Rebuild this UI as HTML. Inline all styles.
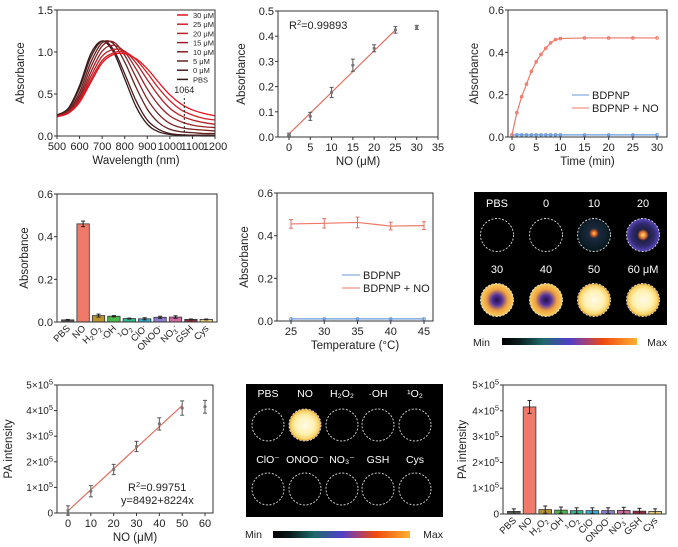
<!DOCTYPE html>
<html><head><meta charset="utf-8"><style>
body{margin:0;background:#fff}
svg{display:block;font-family:"Liberation Sans",sans-serif}
</style></head><body>
<svg id="fig" width="678" height="547" viewBox="0 0 678 547" xmlns="http://www.w3.org/2000/svg">
<defs>
<linearGradient id="cbar" x1="0" x2="1" y1="0" y2="0">
<stop offset="0" stop-color="#000"/><stop offset="0.12" stop-color="#0a1a1a"/><stop offset="0.3" stop-color="#1f6a6a"/><stop offset="0.5" stop-color="#5040c8"/><stop offset="0.62" stop-color="#a0407a"/><stop offset="0.75" stop-color="#f04a10"/><stop offset="1" stop-color="#ffb030"/>
</linearGradient>
<radialGradient id="hot"><stop offset="0" stop-color="#fffbe8"/><stop offset="0.6" stop-color="#fff0b0"/><stop offset="0.9" stop-color="#f8d060"/><stop offset="1" stop-color="#d08020"/></radialGradient>
<radialGradient id="mid"><stop offset="0" stop-color="#ffe070"/><stop offset="0.2" stop-color="#e07030"/><stop offset="0.35" stop-color="#202040"/><stop offset="0.7" stop-color="#302a70"/><stop offset="1" stop-color="#5a48c0"/></radialGradient>
<radialGradient id="low" cx="0.5" cy="0.45"><stop offset="0" stop-color="#ffd060"/><stop offset="0.14" stop-color="#e06020"/><stop offset="0.3" stop-color="#1a2a40"/><stop offset="1" stop-color="#0a1a20"/></radialGradient>
<radialGradient id="ring"><stop offset="0" stop-color="#201040"/><stop offset="0.3" stop-color="#5030a0"/><stop offset="0.65" stop-color="#f0a040"/><stop offset="1" stop-color="#f8d060"/></radialGradient>
</defs>
</svg>
<script>
const svg=document.getElementById('fig');
const NS='http://www.w3.org/2000/svg';
function mk(tag,at,name,parent){const el=document.createElementNS(NS,tag);for(const k in at)el.setAttribute(k,at[k]);


(parent||svg).appendChild(el);return el;}
function txt(x,y,s,name,o){o=o||{};const t=mk('text',Object.assign({x:x,y:y,'font-size':o.fs||10.5,fill:o.fill||'#222','text-anchor':o.anchor||'middle'},o.extra||{}),name);t.textContent=s;return t;}
function sci(x,y,m,name){const t=mk('text',{x:x,y:y,'font-size':10,fill:'#222','text-anchor':'end'},name);
if(m===0){t.textContent='0';return;}
t.appendChild(document.createTextNode(m+'×10'));const sp=document.createElementNS(NS,'tspan');sp.setAttribute('dy','-4');sp.setAttribute('font-size','7.5');sp.textContent='5';t.appendChild(sp);}
function scale(d0,d1,r0,r1){return v=>r0+(v-d0)/(d1-d0)*(r1-r0);}
function frame(b,name){mk('rect',{x:b.x0,y:b.y0,width:b.x1-b.x0,height:b.y1-b.y0,fill:'none',stroke:'#333','stroke-width':1},name);}
function yAxis(b,ys,ticks,labels,title,name,isSci){ticks.forEach((v,i)=>{const y=ys(v);
mk('line',{x1:b.x0-3,x2:b.x0,y1:y,y2:y,stroke:'#333'},name+'-tick');
if(isSci)sci(b.x0-4,y+3.5,labels[i],name+'-label');else txt(b.x0-4,y+4,labels[i],name+'-label',{anchor:'end',fs:11});});
const cx=b.tx||b.x0-33,cy=(b.y0+b.y1)/2;txt(cx,cy,title,name+'-title',{fs:11.5,extra:{transform:`rotate(-90 ${cx} ${cy})`}});}
function xAxis(b,xs,ticks,labels,title,name){ticks.forEach((v,i)=>{const x=xs(v);
mk('line',{x1:x,x2:x,y1:b.y1,y2:b.y1+3,stroke:'#333'},name+'-tick');
txt(x,b.y1+14,labels[i],name+'-label',{fs:11});});
if(title)txt((b.x0+b.x1)/2,b.y1+28,title,name+'-title',{fs:11.5});}
function errbar(x,y1,y2,name,c){mk('line',{x1:x,x2:x,y1:y1,y2:y2,stroke:c||'#555'},name);
mk('line',{x1:x-2,x2:x+2,y1:y1,y2:y1,stroke:c||'#555'},name+'-cap');mk('line',{x1:x-2,x2:x+2,y1:y2,y2:y2,stroke:c||'#555'},name+'-cap');}
function smooth(pts){let d='M'+pts[0][0]+','+pts[0][1];for(let i=0;i<pts.length-1;i++){const p0=pts[i-1]||pts[i],p1=pts[i],p2=pts[i+1],p3=pts[i+2]||p2;
d+=` C${p1[0]+(p2[0]-p0[0])/6},${p1[1]+(p2[1]-p0[1])/6} ${p2[0]-(p3[0]-p1[0])/6},${p2[1]-(p3[1]-p1[1])/6} ${p2[0]},${p2[1]}`;}return d;}

// ===== Panel 1: spectra =====
const specWl=[500,550,600,650,700,750,800,850,900,950,1000,1050,1100,1150,1200];
const specPBS=[0.25,0.33,0.60,0.98,1.13,1.00,0.68,0.35,0.14,0.05,0.02,0.01,0.005,0,0];
const spec0=[0.25,0.32,0.57,0.94,1.13,1.03,0.74,0.42,0.19,0.08,0.03,0.015,0.01,0.01,0.01];
const spec5=[0.24,0.30,0.52,0.88,1.11,1.10,0.88,0.58,0.32,0.16,0.08,0.05,0.04,0.03,0.03];
const spec10=[0.24,0.29,0.48,0.82,1.07,1.12,0.96,0.70,0.44,0.26,0.15,0.10,0.08,0.07,0.06];
const spec15=[0.24,0.28,0.45,0.76,1.01,1.08,1.00,0.80,0.56,0.37,0.24,0.17,0.13,0.11,0.10];
const spec20=[0.23,0.28,0.43,0.71,0.95,1.03,1.01,0.87,0.67,0.48,0.33,0.24,0.19,0.16,0.14];
const spec25=[0.23,0.28,0.41,0.67,0.90,0.99,1.00,0.91,0.75,0.57,0.42,0.31,0.25,0.21,0.19];
const spec30=[0.23,0.27,0.40,0.64,0.87,0.97,0.98,0.92,0.80,0.64,0.49,0.38,0.31,0.27,0.24];
const specNames=['30 μM','25 μM','20 μM','15 μM','10 μM','5 μM','0 μM','PBS'];
(function(){const b={x0:57,x1:215,y0:10,y1:136,tx:24};const xs=scale(500,1200,57,215),ys=scale(0,1.5,136,10);
const series=[spec30,spec25,spec20,spec15,spec10,spec5,spec0,specPBS];
const cols=['#e8141e','#cf1f25','#b52228','#9a2228','#7e2224','#632020','#4a1c1c','#321818'];
for(let i=series.length-1;i>=0;i--){mk('path',{d:smooth(specWl.map((w,j)=>[xs(w),ys(series[i][j])])),fill:'none',stroke:cols[i],'stroke-width':1.3},'spectrum-'+specNames[i].replace(/ μM/,'uM').toLowerCase());}
mk('line',{x1:xs(1064),x2:xs(1064),y1:ys(0),y2:ys(0.48),stroke:'#222','stroke-dasharray':'2,2'},'wavelength-1064-marker');
txt(xs(1064),ys(0.5)-1,'1064','marker-label',{fs:9});
frame(b,'spectra-frame');
yAxis(b,ys,[0,0.5,1,1.5],['0.0','0.5','1.0','1.5'],'Absorbance','spectra-y');
xAxis(b,xs,[500,600,700,800,900,1000,1100,1200],['500','600','700','800','900','1000','1100','1200'],'Wavelength (nm)','spectra-x');
specNames.forEach((n,i)=>{const y=15+i*9.2;mk('line',{x1:177,x2:188,y1:y,y2:y,stroke:cols[i],'stroke-width':1.5},'legend-swatch');txt(193,y+3,n,'legend-entry',{fs:7.5,anchor:'start'});});})();

// ===== Panel 2: linear abs =====
const noConc=[0,5,10,15,20,25,30];
const noAbs=[0.01,0.082,0.177,0.285,0.352,0.425,0.435];
const noAbsErr=[0.005,0.016,0.02,0.024,0.014,0.013,0.008];
const fit2X=[0,25];const fit2Y=[0.012,0.425];
(function(){const b={x0:278,x1:438,y0:11,y1:137,tx:245};const xs=scale(0,35,289,438),ys=scale(0,0.5,137,11);
mk('line',{x1:xs(fit2X[0]),x2:xs(fit2X[1]),y1:ys(fit2Y[0]),y2:ys(fit2Y[1]),stroke:'#e07060','stroke-width':1.2},'fit-line');
noConc.forEach((c,i)=>{errbar(xs(c),ys(noAbs[i]+noAbsErr[i]),ys(noAbs[i]-noAbsErr[i]),'error-bar');mk('circle',{cx:xs(c),cy:ys(noAbs[i]),r:1.6,fill:'#777'},'data-point');});
frame(b,'abs-linear-frame');
yAxis(b,ys,[0,0.1,0.2,0.3,0.4,0.5],['0.0','0.1','0.2','0.3','0.4','0.5'],'Absorbance','abs-linear-y');
xAxis(b,xs,[0,5,10,15,20,25,30,35],['0','5','10','15','20','25','30','35'],'NO (μM)','abs-linear-x');
const t=txt(289,29,'R','r-squared',{fs:11,anchor:'start'});t.innerHTML='R<tspan dy="-4" font-size="7.5">2</tspan><tspan dy="4">=0.99893</tspan>';})();

// ===== Panel 3: time =====
const timeMin=[0,1,2,3,4,5,6,7,8,9,10,15,20,25,30];
const timeNO=[0.01,0.115,0.19,0.25,0.31,0.355,0.39,0.42,0.445,0.46,0.465,0.468,0.468,0.468,0.468];
const timeBD=[0.01,0.01,0.01,0.01,0.01,0.01,0.01,0.01,0.01,0.01,0.01,0.01,0.01,0.01,0.01];
(function(){const b={x0:508,x1:667,y0:10,y1:137,tx:478};const xs=scale(0,30,512,657),ys=scale(0,0.6,137,10);
[[timeBD,'#6a9ad8','bdpnp'],[timeNO,'#ee7868','bdpnp-no']].forEach(s=>{mk('polyline',{points:timeMin.map((t,i)=>xs(t)+','+ys(s[0][i])).join(' '),fill:'none',stroke:s[1],'stroke-width':1.2},'series-'+s[2]);
timeMin.forEach((t,i)=>mk('circle',{cx:xs(t),cy:ys(s[0][i]),r:1.3,fill:'none',stroke:s[1]},'point-'+s[2]));});
frame(b,'time-frame');
yAxis(b,ys,[0,0.2,0.4,0.6],['0.0','0.2','0.4','0.6'],'Absorbance','time-y');
xAxis(b,xs,[0,5,10,15,20,25,30],['0','5','10','15','20','25','30'],'Time (min)','time-x');
mk('line',{x1:572,x2:589,y1:95,y2:95,stroke:'#6a9ad8'},'legend-swatch');txt(592,99,'BDPNP','legend-entry',{anchor:'start',fs:11});
mk('line',{x1:572,x2:589,y1:108,y2:108,stroke:'#ee7868'},'legend-swatch');txt(592,112,'BDPNP + NO','legend-entry',{anchor:'start',fs:11});})();

// ===== bar helpers =====
const barCats=['PBS','NO','H2O2','·OH','1O2','ClO-','ONOO-','NO3-','GSH','Cys'];
const barColors=['#555555','#f07a6a','#b8922a','#4cb84c','#2fb88e','#2fb0d8','#8c7cd0','#d06aa0','#8c2c3c','#ead07a'];
function catLabel(x,y,c,name){const g=mk('text',{x:x,y:y,'font-size':9.5,fill:'#222','text-anchor':'end',transform:`rotate(-45 ${x} ${y})`},name);
if(c==='H2O2'){g.innerHTML='H<tspan dy="2" font-size="6.5">2</tspan><tspan dy="-2">O</tspan><tspan dy="2" font-size="6.5">2</tspan>';}
else if(c==='1O2'){g.innerHTML='<tspan dy="-3" font-size="6.5">1</tspan><tspan dy="3">O</tspan><tspan dy="2" font-size="6.5">2</tspan>';}
else if(c==='ClO-'||c==='ONOO-'){g.innerHTML=c.slice(0,-1)+'<tspan dy="-3" font-size="6.5">-</tspan>';}
else if(c==='NO3-'){g.innerHTML='NO<tspan dy="2" font-size="6.5">3</tspan><tspan dy="-5" font-size="6.5">-</tspan>';}
else g.textContent=c;}
function bars(b,ys,vals,errs,name){const n=vals.length,w=(b.x1-b.x0-6)/n;vals.forEach((v,i)=>{const x=b.x0+3+i*w+1.5,bw=w-3;
mk('rect',{x:x,y:ys(v),width:bw,height:ys(0)-ys(v),fill:barColors[i],stroke:'#333','stroke-width':0.8},name+'-bar-'+i);
errbar(x+bw/2,ys(v+errs[i]),ys(v-errs[i]>0?v-errs[i]:0),name+'-error','#222');
catLabel(x+bw/2+3,b.y1+7,barCats[i],name+'-category-label');});}

// ===== Panel 4: selectivity abs =====
const selAbs=[0.01,0.46,0.03,0.027,0.016,0.015,0.022,0.023,0.012,0.012];
const selAbsErr=[0.002,0.013,0.007,0.003,0.002,0.005,0.005,0.006,0.002,0.002];
(function(){const b={x0:57,x1:217,y0:194,y1:322,tx:28};const ys=scale(0,0.6,322,194);
bars(b,ys,selAbs,selAbsErr,'sel-abs');frame(b,'sel-abs-frame');
yAxis(b,ys,[0,0.2,0.4,0.6],['0.0','0.2','0.4','0.6'],'Absorbance','sel-abs-y');})();

// ===== Panel 5: temperature =====
const tempC=[25,30,35,40,45];
const tempNO=[0.455,0.458,0.462,0.445,0.447];
const tempNOErr=[0.02,0.022,0.025,0.018,0.018];
const tempBD=[0.01,0.01,0.01,0.01,0.01];
(function(){const b={x0:277,x1:433,y0:193,y1:321,tx:248};const xs=scale(25,45,291,424),ys=scale(0,0.6,321,193);
mk('polyline',{points:tempC.map((t,i)=>xs(t)+','+ys(tempBD[i])).join(' '),fill:'none',stroke:'#6a9ad8','stroke-width':1.2},'series-bdpnp');
mk('polyline',{points:tempC.map((t,i)=>xs(t)+','+ys(tempNO[i])).join(' '),fill:'none',stroke:'#ee7868','stroke-width':1.2},'series-bdpnp-no');
tempC.forEach((t,i)=>{errbar(xs(t),ys(tempNO[i]+tempNOErr[i]),ys(tempNO[i]-tempNOErr[i]),'error-bar','#e07060');mk('circle',{cx:xs(t),cy:ys(tempBD[i]),r:1.3,fill:'none',stroke:'#6a9ad8'},'point-bdpnp');});
frame(b,'temp-frame');
yAxis(b,ys,[0,0.2,0.4,0.6],['0.0','0.2','0.4','0.6'],'Absorbance','temp-y');
xAxis(b,xs,tempC,['25','30','35','40','45'],'Temperature (°C)','temp-x');
mk('line',{x1:342,x2:360,y1:275,y2:275,stroke:'#6a9ad8'},'legend-swatch');txt(363,279,'BDPNP','legend-entry',{anchor:'start',fs:11});
mk('line',{x1:342,x2:360,y1:288,y2:288,stroke:'#ee7868'},'legend-swatch');txt(363,292,'BDPNP + NO','legend-entry',{anchor:'start',fs:11});})();

// ===== Panel 6: PA image concentration =====
(function(){mk('rect',{x:474,y:192,width:193,height:133,fill:'#000'},'pa-image-concentration');
const labs=['PBS','0','10','20','30','40','50','60 μM'];const fills=[null,null,'url(#low)','url(#mid)','url(#ring)','url(#ring)','url(#hot)','url(#hot)'];
const cxs=[497,546,594,643];labs.forEach((l,i)=>{const r=Math.floor(i/4),cx=cxs[i%4],ly=r?273:207,cy=r?300:235;
txt(cx,ly,l,'well-label',{fill:'#fff',fs:11});
if(fills[i])mk('circle',{cx:cx,cy:cy,r:16.5,fill:fills[i]},'well-signal');
mk('circle',{cx:cx,cy:cy,r:16.5,fill:'none',stroke:'#ddd','stroke-dasharray':'2,1.6','stroke-width':0.9},'well-outline');});
mk('rect',{x:502,y:338,width:135,height:7,fill:'url(#cbar)'},'colorbar');
txt(473,346,'Min','colorbar-min',{anchor:'start',fs:10.5});txt(667,346,'Max','colorbar-max',{anchor:'end',fs:10.5});})();

// ===== Panel 7: PA linear =====
const paConc=[0,10,20,30,40,50,60];
const paVal=[10000,85000,170000,260000,348000,410000,415000];
const paErr=[18000,22000,20000,20000,24000,28000,25000];
const fit7X=[0,50];const fit7Y=[8492,419692];
(function(){const b={x0:57,x1:213,y0:385,y1:513,tx:12};const xs=scale(0,60,68,205),ys=scale(0,500000,513,385);
mk('line',{x1:xs(fit7X[0]),x2:xs(fit7X[1]),y1:ys(fit7Y[0]),y2:ys(fit7Y[1]),stroke:'#e07060','stroke-width':1.2},'fit-line');
paConc.forEach((c,i)=>{errbar(xs(c),ys(paVal[i]+paErr[i]),ys(paVal[i]-paErr[i]),'error-bar');mk('circle',{cx:xs(c),cy:ys(paVal[i]),r:1.6,fill:'#777'},'data-point');});
frame(b,'pa-linear-frame');
yAxis(b,ys,[0,100000,200000,300000,400000,500000],[0,1,2,3,4,5],'PA intensity','pa-linear-y',true);
xAxis(b,xs,paConc,['0','10','20','30','40','50','60'],'NO (μM)','pa-linear-x');
const t=txt(128,491,'','r-squared',{anchor:'start',fs:11});t.innerHTML='R<tspan dy="-4" font-size="7.5">2</tspan><tspan dy="4">=0.99751</tspan>';
txt(121,504,'y=8492+8224x','fit-equation',{anchor:'start',fs:11});})();

// ===== Panel 8: PA image selectivity =====
(function(){mk('rect',{x:246,y:384,width:197,height:133,fill:'#000'},'pa-image-selectivity');
const labs=['PBS','NO','H₂O₂','·OH','¹O₂','ClO⁻','ONOO⁻','NO₃⁻','GSH','Cys'];const cxs=[268,305,342,378,415];
labs.forEach((l,i)=>{const r=Math.floor(i/5),cx=cxs[i%5],ly=r?463:397,cy=r?489:425;
txt(cx,ly,l,'well-label',{fill:'#fff',fs:10.5});
if(i===1)mk('circle',{cx:cx,cy:cy,r:16,fill:'url(#hot)'},'well-signal');
mk('circle',{cx:cx,cy:cy,r:16,fill:'none',stroke:'#ddd','stroke-dasharray':'2,1.6','stroke-width':0.9},'well-outline');});
mk('rect',{x:273,y:531,width:137,height:7,fill:'url(#cbar)'},'colorbar');
txt(245,538,'Min','colorbar-min',{anchor:'start',fs:10.5});txt(443,538,'Max','colorbar-max',{anchor:'end',fs:10.5});})();

// ===== Panel 9: PA selectivity bars =====
const selPA=[10000,415000,17000,15000,13000,13000,13000,14000,11000,10000];
const selPAErr=[10000,25000,14000,12000,11000,11000,11000,12000,11000,10000];
(function(){const b={x0:503,x1:666,y0:385,y1:514,tx:466};const ys=scale(0,500000,514,385);
bars(b,ys,selPA,selPAErr,'sel-pa');frame(b,'sel-pa-frame');
yAxis(b,ys,[0,100000,200000,300000,400000,500000],[0,1,2,3,4,5],'PA intensity','sel-pa-y',true);})();
</script>
</body></html>
